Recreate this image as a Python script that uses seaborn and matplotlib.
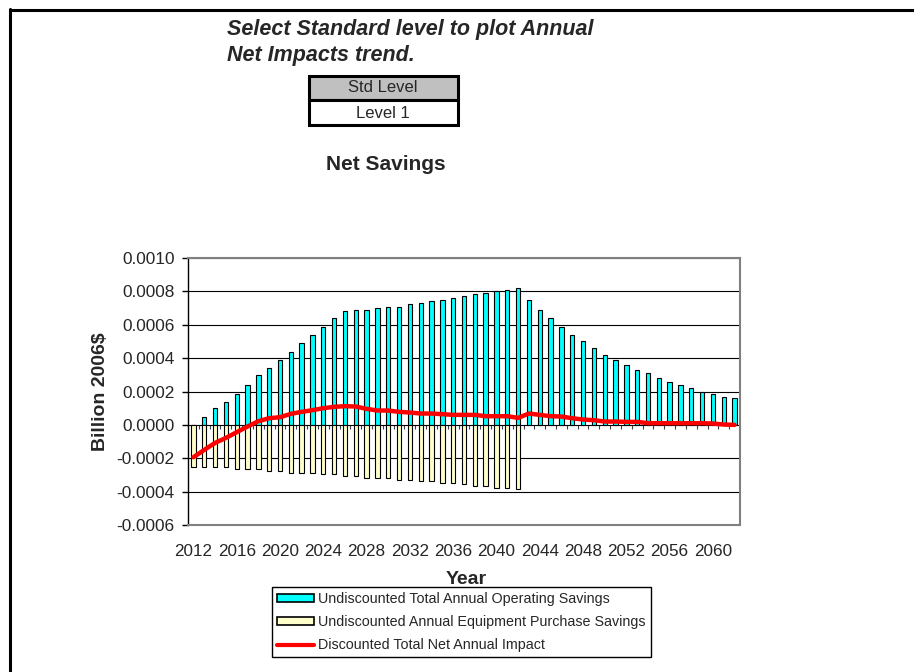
import matplotlib
matplotlib.use('Agg')
import matplotlib.pyplot as plt
from matplotlib.patches import Rectangle, Patch
from matplotlib.lines import Line2D
import numpy as np
import seaborn as sns

# Chart values (Billion 2006$).
years = list(range(2012, 2063))
operating_savings = [
    0.0, 0.00005, 0.00010, 0.00014, 0.000186, 0.000236, 0.000298, 0.00034,
    0.00039, 0.000438, 0.000488, 0.000538, 0.000588, 0.00064, 0.00068,
    0.000688, 0.000688, 0.0007, 0.000708, 0.000708, 0.000722, 0.00073,
    0.00074, 0.00075, 0.00076, 0.00077, 0.000782, 0.00079, 0.000802,
    0.00081, 0.00082, 0.00075, 0.000688, 0.00064, 0.000588, 0.000538,
    0.0005, 0.00046, 0.00042, 0.00039, 0.00036, 0.00033, 0.000308,
    0.000278, 0.000258, 0.000238, 0.00022, 0.000198, 0.000186, 0.00017,
    0.00016,
]
equipment_years = list(range(2012, 2043))
equipment_savings = [
    -0.000254, -0.000254, -0.000254, -0.000254, -0.000266, -0.000266,
    -0.000266, -0.000274, -0.000274, -0.000286, -0.000286, -0.000286,
    -0.000296, -0.000296, -0.000306, -0.000306, -0.000316, -0.000316,
    -0.000316, -0.000328, -0.000328, -0.000336, -0.000336, -0.000346,
    -0.000346, -0.000356, -0.000366, -0.000366, -0.000376, -0.000376,
    -0.000386,
]
net_impact = [
    -0.000194, -0.00015, -0.000108, -0.000078, -0.000044, -0.00001,
    0.000022, 0.00004, 0.000046, 0.000066, 0.000078, 0.000088, 0.0001,
    0.000108, 0.000112, 0.00011, 0.000096, 0.000086, 0.000086, 0.000078,
    0.000074, 0.000068, 0.000068, 0.000064, 0.00006, 0.00006, 0.00006,
    0.000052, 0.000052, 0.000052, 0.000042, 0.000068, 0.00006, 0.000052,
    0.00005, 0.00004, 0.000032, 0.000028, 0.00002, 0.00002, 0.000018,
    0.000018, 0.00001, 0.00001, 0.00001, 0.00001, 0.00001, 0.00001,
    0.000008, 0.000002, 0.0,
]
y_ticks = [-0.0006, -0.0004, -0.0002, 0.0, 0.0002, 0.0004, 0.0006, 0.0008, 0.0010]
x_label_years = list(range(2012, 2061, 4))

W, H = 914, 672


def fx(px):
    return px / W


def fy(py):
    return 1 - py / H


sns.set_style('white')
plt.rcParams['font.family'] = ['Liberation Sans', 'DejaVu Sans']

fig = plt.figure(figsize=(W / 100, H / 100), dpi=100)
ax = fig.add_axes([fx(188), fy(525), (740 - 188) / W, (525 - 258) / H])

# Bars and line.
sns.barplot(x=years, y=operating_savings, native_scale=True, orient='x',
            color='#00FFFF', saturation=1, edgecolor='black', linewidth=0.8,
            width=0.4, errorbar=None, ax=ax)
sns.barplot(x=equipment_years, y=equipment_savings, native_scale=True, orient='x',
            color='#FFFFCC', saturation=1, edgecolor='black', linewidth=0.8,
            width=0.4, errorbar=None, ax=ax)
sns.lineplot(x=years, y=net_impact, color='#FF0000', linewidth=3.2, ax=ax, legend=False)

# Axes styling.
ax.set_xlim(years[0] - 0.5, years[-1] + 0.5)
ax.set_ylim(-0.0006, 0.0010)
ax.set_yticks(y_ticks, labels=[f'{v:.4f}' for v in y_ticks])
ax.set_xticks(x_label_years, labels=[str(y) for y in x_label_years])
ax.tick_params(axis='y', labelsize=12.4, length=4, width=1, color='black',
               pad=5.5, left=True)
ax.tick_params(axis='x', labelsize=12.3, length=0, pad=14)
ax.set_axisbelow(True)
ax.yaxis.grid(True, color='black', linewidth=0.8)
ax.xaxis.grid(False)
for side in ['top', 'right', 'bottom']:
    ax.spines[side].set_color('#808080')
    ax.spines[side].set_linewidth(1.5)
ax.spines['left'].set_color('black')
ax.spines['left'].set_linewidth(1)

# Category ticks on the zero line.
sec = ax.secondary_xaxis(0.375)
sec.set_xticks(np.arange(years[0] - 0.5, years[-1] + 1, 1))
sec.tick_params(length=3, width=0.8, color='#404040', labelbottom=False, labeltop=False)
for s in sec.spines.values():
    s.set_visible(False)

ax.set_ylabel('Billion 2006$', fontsize=14, fontweight='bold')
ax.yaxis.set_label_coords(-0.143, 0.5)
ax.set_xlabel('Year', fontsize=14, fontweight='bold')
ax.xaxis.set_label_coords(0.504, -0.172)

# Titles and level selector.
fig.text(fx(386), fy(165), 'Net Savings', fontsize=15, fontweight='bold',
         ha='center', va='center')
fig.text(fx(227), fy(30), 'Select Standard level to plot Annual', fontsize=15.5,
         fontweight='bold', style='italic', ha='left', va='center')
fig.text(fx(227), fy(56), 'Net Impacts trend.', fontsize=15.5,
         fontweight='bold', style='italic', ha='left', va='center')
fig.add_artist(Rectangle((fx(309), fy(100)), (458 - 309) / W, 24 / H,
                         transform=fig.transFigure, facecolor='#C0C0C0',
                         edgecolor='black', linewidth=2.2))
fig.add_artist(Rectangle((fx(309), fy(125)), (458 - 309) / W, 25 / H,
                         transform=fig.transFigure, facecolor='white',
                         edgecolor='black', linewidth=2.2))
fig.text(fx(383), fy(88), 'Std Level', fontsize=12, ha='center', va='center')
fig.text(fx(383), fy(113), 'Level 1', fontsize=12, ha='center', va='center')

# Page border.
fig.add_artist(Line2D([fx(9.5), 1], [fy(9.5), fy(9.5)], transform=fig.transFigure,
                      color='black', linewidth=2.2))
fig.add_artist(Line2D([fx(9.5), fx(9.5)], [fy(8.5), 0], transform=fig.transFigure,
                      color='black', linewidth=2.2))

# Legend.
handles = [
    Patch(facecolor='#00FFFF', edgecolor='black', linewidth=1.2),
    Patch(facecolor='#FFFFCC', edgecolor='black', linewidth=1.2),
    Line2D([], [], color='#FF0000', linewidth=3),
]
labels = [
    'Undiscounted Total Annual Operating Savings',
    'Undiscounted Annual Equipment Purchase Savings',
    'Discounted Total Net Annual Impact',
]
leg = fig.legend(handles, labels, loc='upper left',
                 bbox_to_anchor=(fx(272), fy(587)), fontsize=10.3,
                 frameon=True, fancybox=False, shadow=False,
                 handlelength=2.6, handleheight=0.5, handletextpad=0.3,
                 labelspacing=0.64, borderpad=0.35, borderaxespad=0)
leg.get_frame().set_edgecolor('black')
leg.get_frame().set_linewidth(1)
leg.get_frame().set_alpha(1)

fig.savefig('out.png', dpi=100)
